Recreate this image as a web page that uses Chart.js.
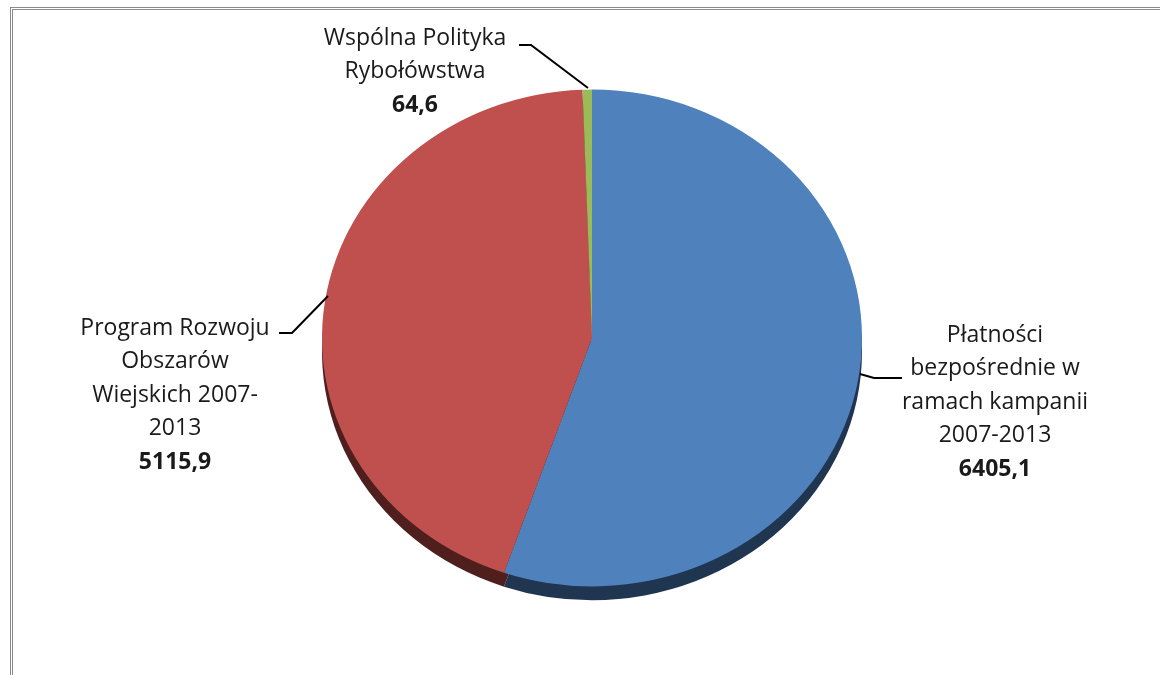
<!DOCTYPE html>
<html>
<head>
<meta charset="utf-8">
<script src="https://cdn.jsdelivr.net/npm/chart.js@4"></script>
<style>
  body { margin: 0; background: #fff; }
  #wrap { position: relative; width: 1160px; height: 675px; overflow: hidden; }
  #ramka { position: absolute; left: 10px; top: 7px; width: 1200px; height: 720px; border: 3px double #8a8a8a; box-sizing: border-box; }
  canvas { position: absolute; left: 0; top: 0; }
</style>
</head>
<body>
<div id="wrap">
  <div id="ramka"></div>
  <canvas id="wykres" width="1160" height="675"></canvas>
</div>
<script>
// dane (mln zł)
const kategorie = [
  ['Płatności', 'bezpośrednie w', 'ramach kampanii', '2007-2013'],
  ['Program Rozwoju', 'Obszarów', 'Wiejskich 2007-', '2013'],
  ['Wspólna Polityka', 'Rybołówstwa']
];
const wartosci = [6405.1, 5115.9, 64.6];
const etykietyWartosci = ['6405,1', '5115,9', '64,6'];
const kolory = ['#4F81BD', '#C0504D', '#9BBB59'];
const koloryCienia = ['#1F3550', '#4E1F1D', '#3F4F24'];

// spłaszczenie koła na elipsę + cień pod spodem
const splaszcz = 0.92;
const elipsa = {
  id: 'elipsa',
  beforeDatasetsDraw(chart) {
    const c = chart.ctx;
    const meta = chart.getDatasetMeta(0);
    const a0 = meta.data[0];
    c.save();
    c.translate(a0.x, a0.y);
    c.scale(1, splaszcz);
    c.translate(-a0.x, -a0.y);
    // cień
    meta.data.forEach((a, i) => {
      c.beginPath();
      c.moveTo(a.x, a.y + 15);
      c.arc(a.x, a.y + 15, a.outerRadius, a.startAngle, a.endAngle);
      c.closePath();
      c.fillStyle = koloryCienia[i];
      c.fill();
    });
  },
  afterDatasetsDraw(chart) {
    chart.ctx.restore();
  }
};

// etykiety z liniami odniesienia
const pozycje = [
  { x: 995, y: 335, linia: [[860, 374], [874, 378], [902, 378]] },
  { x: 175, y: 328, linia: [[328, 296], [292, 333], [279, 333]] },
  { x: 415, y: 38, linia: [[588, 88], [531, 45], [519, 45]] }
];
const etykiety = {
  id: 'etykiety',
  afterDraw(chart) {
    const c = chart.ctx;
    c.save();
    c.textAlign = 'center';
    c.textBaseline = 'middle';
    c.fillStyle = '#1a1a1a';
    pozycje.forEach((p, i) => {
      c.beginPath();
      c.moveTo(p.linia[0][0], p.linia[0][1]);
      p.linia.slice(1).forEach(pt => c.lineTo(pt[0], pt[1]));
      c.strokeStyle = '#000';
      c.lineWidth = 2;
      c.stroke();
      let y = p.y;
      c.font = '23px "Open Sans"';
      kategorie[i].forEach(t => { c.fillText(t, p.x, y); y += 33.5; });
      c.font = 'bold 23px "Open Sans"';
      c.fillText(etykietyWartosci[i], p.x, y);
    });
    c.restore();
  }
};

new Chart(document.getElementById('wykres').getContext('2d'), {
  type: 'pie',
  data: {
    labels: kategorie.map(k => k.join(' ')),
    datasets: [{
      data: wartosci,
      backgroundColor: kolory,
      borderWidth: 0,
      radius: 270
    }]
  },
  options: {
    responsive: false,
    animation: false,
    layout: { padding: { left: 24, right: 0, top: 1, bottom: 0 } },
    plugins: {
      legend: { display: false },
      tooltip: { enabled: false }
    }
  },
  plugins: [elipsa, etykiety]
});
</script>
</body>
</html>
